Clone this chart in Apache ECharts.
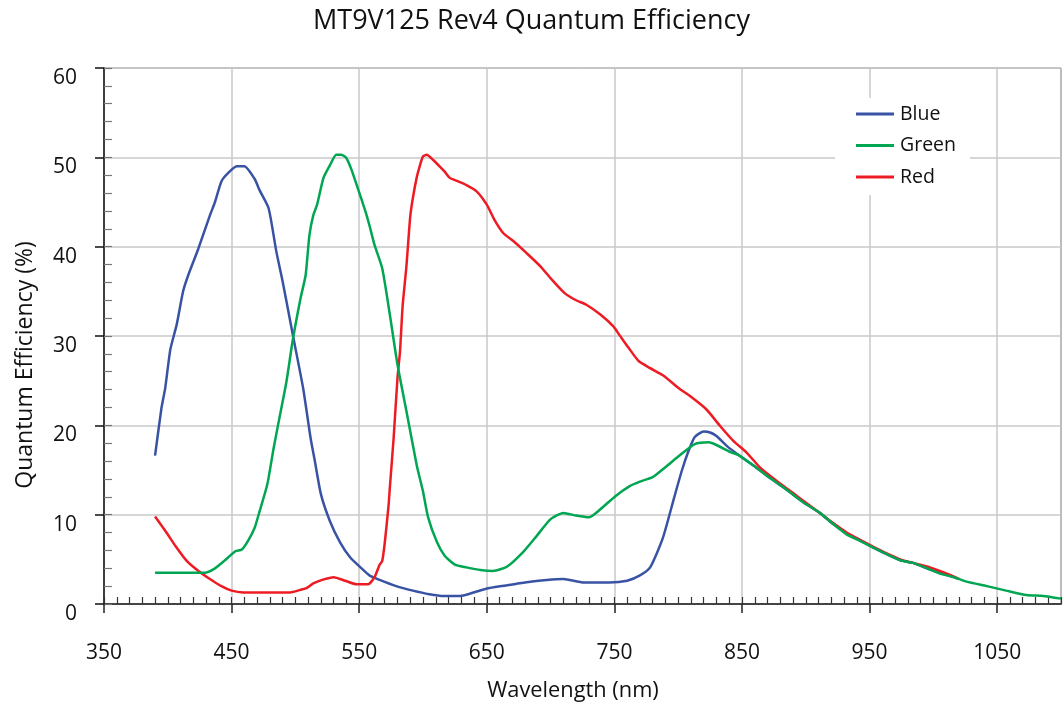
<!DOCTYPE html>
<html>
<head>
<meta charset="utf-8">
<title>MT9V125 Rev4 Quantum Efficiency</title>
<script src="https://cdn.jsdelivr.net/npm/echarts@6/dist/echarts.min.js"></script>
<style>
  html, body { margin: 0; padding: 0; background: #fff; }
  #chart { width: 1063px; height: 707px; }
</style>
</head>
<body>
<div id="chart"></div>
<script>
// Quantum efficiency (%) per colour channel, as [wavelength nm, QE %]
const blue = [
  [390, 16.6], [395, 21.9], [398, 24.2], [402, 28.5], [407, 31.3], [412, 35.0],
  [416, 36.8], [424, 39.8], [433, 43.5], [437, 45.0], [442, 47.3], [447, 48.2],
  [454, 49.0], [460, 49.0], [468, 47.6], [472, 46.3], [479, 44.3], [485, 39.5],
  [490, 36.1], [498, 30.1], [506, 24.2], [512, 18.5], [515, 16.2], [520, 12.3],
  [527, 9.3], [535, 6.9], [543, 5.2], [551, 4.1], [558, 3.2], [566, 2.7],
  [579, 2.0], [592, 1.5], [605, 1.1], [616, 0.9], [629, 0.9], [642, 1.4],
  [652, 1.8], [671, 2.2], [684, 2.5], [697, 2.7], [710, 2.8], [726, 2.4],
  [746, 2.4], [760, 2.6], [770, 3.2], [778, 4.1], [788, 7.4], [797, 12.0],
  [803, 15.0], [808, 17.1], [813, 18.7], [820, 19.3], [825, 19.2], [830, 18.8],
  [838, 17.7], [850, 16.4], [860, 15.4], [872, 14.1], [885, 12.8], [898, 11.4],
  [911, 10.2], [921, 9.0], [932, 7.9], [942, 7.2], [953, 6.3], [963, 5.6],
  [974, 4.9], [984, 4.6], [995, 4.0], [1005, 3.5], [1016, 3.0]
];
const green = [
  [390, 3.5], [429, 3.5], [436, 3.9], [444, 4.8], [453, 5.9], [458, 6.1],
  [463, 7.1], [468, 8.5], [472, 10.4], [478, 13.4], [483, 17.5], [488, 21.2],
  [493, 24.9], [498, 29.6], [504, 34.2], [508, 36.8], [511, 41.3], [514, 43.5],
  [517, 44.7], [522, 47.7], [527, 49.1], [532, 50.3], [536, 50.3], [540, 49.9],
  [544, 48.6], [549, 46.5], [555, 43.9], [558, 42.4], [562, 40.2], [568, 37.6],
  [574, 32.4], [580, 26.8], [587, 21.6], [595, 15.6], [600, 12.6], [604, 9.7],
  [611, 6.9], [617, 5.4], [625, 4.4], [634, 4.1], [645, 3.8], [655, 3.7],
  [666, 4.2], [679, 5.9], [689, 7.6], [700, 9.5], [710, 10.2], [720, 9.9],
  [730, 9.7], [739, 10.6], [751, 12.1], [762, 13.2], [770, 13.7], [780, 14.2],
  [789, 15.2], [800, 16.5], [813, 17.9], [824, 18.1], [830, 17.8], [841, 17.0],
  [847, 16.7], [859, 15.5], [872, 14.1], [885, 12.8], [898, 11.4], [911, 10.2],
  [922, 8.9], [932, 7.8], [942, 7.1], [953, 6.3], [963, 5.6], [974, 4.9],
  [984, 4.6], [995, 4.0], [1005, 3.4], [1016, 3.0], [1026, 2.5], [1042, 2.0],
  [1057, 1.5], [1073, 1.0], [1086, 0.9], [1100, 0.6]
];
const red = [
  [390, 9.8], [398, 8.2], [406, 6.5], [415, 4.8], [424, 3.7], [433, 2.8],
  [442, 2.0], [450, 1.5], [459, 1.3], [496, 1.3], [502, 1.5], [509, 1.8],
  [514, 2.3], [521, 2.7], [530, 3.0], [539, 2.6], [548, 2.2], [557, 2.2],
  [562, 3.0], [566, 4.4], [568, 4.8], [570, 6.8], [573, 11.0], [574, 13.0],
  [577, 18.6], [580, 25.3], [582, 28.3], [584, 33.3], [587, 37.8], [590, 43.4],
  [592, 45.4], [595, 47.7], [597, 48.8], [600, 50.1], [603, 50.3], [608, 49.7],
  [613, 49.0], [617, 48.4], [621, 47.7], [626, 47.4], [634, 46.9], [642, 46.2],
  [650, 44.7], [656, 43.0], [663, 41.5], [671, 40.6], [681, 39.3], [692, 37.8],
  [701, 36.3], [711, 34.8], [720, 34.0], [728, 33.5], [739, 32.4], [749, 31.1],
  [754, 30.1], [761, 28.7], [769, 27.2], [778, 26.4], [788, 25.6], [801, 24.1],
  [809, 23.3], [822, 21.8], [833, 19.9], [843, 18.3], [854, 16.9], [864, 15.3],
  [877, 13.8], [893, 12.1], [911, 10.2], [922, 9.0], [932, 8.0], [942, 7.2],
  [953, 6.4], [963, 5.7], [974, 5.0], [984, 4.6], [995, 4.2], [1005, 3.7],
  [1012, 3.3], [1020, 2.8]
];

// Axis ticks
const xLabels = [350, 450, 550, 650, 750, 850, 950, 1050];
const yLabels = [0, 10, 20, 30, 40, 50, 60];
const xRange = [350, 1100];
const yRange = [0, 60];

const FONT = '"Open Sans", "Noto Sans", sans-serif';
const TEXT = '#111';

const chart = echarts.init(document.getElementById('chart'), null, { renderer: 'canvas' });

chart.setOption({
  animation: false,
  backgroundColor: '#fff',
  textStyle: { fontFamily: FONT, color: TEXT },
  title: {
    text: 'MT9V125 Rev4 Quantum Efficiency',
    left: 'center',
    top: 3,
    textStyle: { fontFamily: FONT, fontSize: 27, fontWeight: 'normal', color: TEXT }
  },
  grid: {
    left: 104, right: 2, top: 68, bottom: 101,
    show: true, borderColor: '#7a7a7a', borderWidth: 1, backgroundColor: 'transparent'
  },
  legend: {
    orient: 'vertical',
    left: 835,
    top: 98,
    padding: [6, 14, 8, 21],
    backgroundColor: '#fff',
    icon: 'rect',
    itemWidth: 38,
    itemHeight: 3,
    itemGap: 11.5,
    textStyle: { fontFamily: FONT, fontSize: 19.5, color: TEXT, padding: [0, 0, 0, 1] },
    data: ['Blue', 'Green', 'Red']
  },
  xAxis: [
    {
      type: 'value',
      min: xRange[0], max: xRange[1], interval: 100,
      name: 'Wavelength (nm)',
      nameLocation: 'middle',
      nameGap: 76,
      nameTextStyle: { fontFamily: FONT, fontSize: 21.8, color: TEXT, padding: [0, 19, 0, 0] },
      axisLine: { show: true, lineStyle: { color: '#444', width: 2 } },
      axisTick: { show: true, inside: false, length: 9, lineStyle: { color: '#222', width: 1.5 },
                  customValues: xLabels },
      axisLabel: { show: true, margin: 39, fontFamily: FONT, fontSize: 21, color: TEXT,
                   customValues: xLabels, formatter: v => String(v) },
      splitLine: { show: true, lineStyle: { color: '#c8c8c8', width: 1.5 } }
    },
    {
      // minor ticks every 10 nm
      type: 'value',
      gridIndex: 0,
      position: 'bottom',
      min: xRange[0], max: xRange[1], interval: 10,
      axisLine: { show: false },
      axisTick: { show: true, inside: true, length: 7, lineStyle: { color: '#333', width: 1.2 } },
      axisLabel: { show: false },
      splitLine: { show: false }
    }
  ],
  yAxis: [
    {
      type: 'value',
      min: yRange[0], max: yRange[1], interval: 10,
      name: 'Quantum Efficiency (%)',
      nameLocation: 'middle',
      nameGap: 67,
      nameTextStyle: { fontFamily: FONT, fontSize: 23, color: TEXT, padding: [0, 58, 0, 0] },
      axisLine: { show: true, lineStyle: { color: '#111', width: 1.5 } },
      axisTick: { show: true, inside: false, length: 9, lineStyle: { color: '#111', width: 1.5 } },
      axisLabel: { margin: 27, fontFamily: FONT, fontSize: 21, color: TEXT,
                   verticalAlign: 'top', lineHeight: 20,
                   customValues: yLabels },
      splitLine: { show: true, lineStyle: { color: '#c8c8c8', width: 1.5 } }
    },
    {
      // minor ticks every 2 %
      type: 'value',
      gridIndex: 0,
      position: 'left',
      min: yRange[0], max: yRange[1], interval: 2,
      axisLine: { show: false },
      axisTick: { show: true, inside: true, length: 8, lineStyle: { color: '#777', width: 1.2 } },
      axisLabel: { show: false },
      splitLine: { show: false }
    }
  ],
  series: [
    {
      name: 'Blue', type: 'line', data: blue, symbol: 'none', smooth: 0.2, z: 3,
      lineStyle: { color: '#3953a4', width: 2.5 }, itemStyle: { color: '#3953a4' }
    },
    {
      name: 'Green', type: 'line', data: green, symbol: 'none', smooth: 0.2, z: 5,
      lineStyle: { color: '#00a651', width: 2.5 }, itemStyle: { color: '#00a651' }
    },
    {
      name: 'Red', type: 'line', data: red, symbol: 'none', smooth: 0.2, z: 4,
      lineStyle: { color: '#ed1c24', width: 2.5 }, itemStyle: { color: '#ed1c24' }
    }
  ]
});
</script>
</body>
</html>
